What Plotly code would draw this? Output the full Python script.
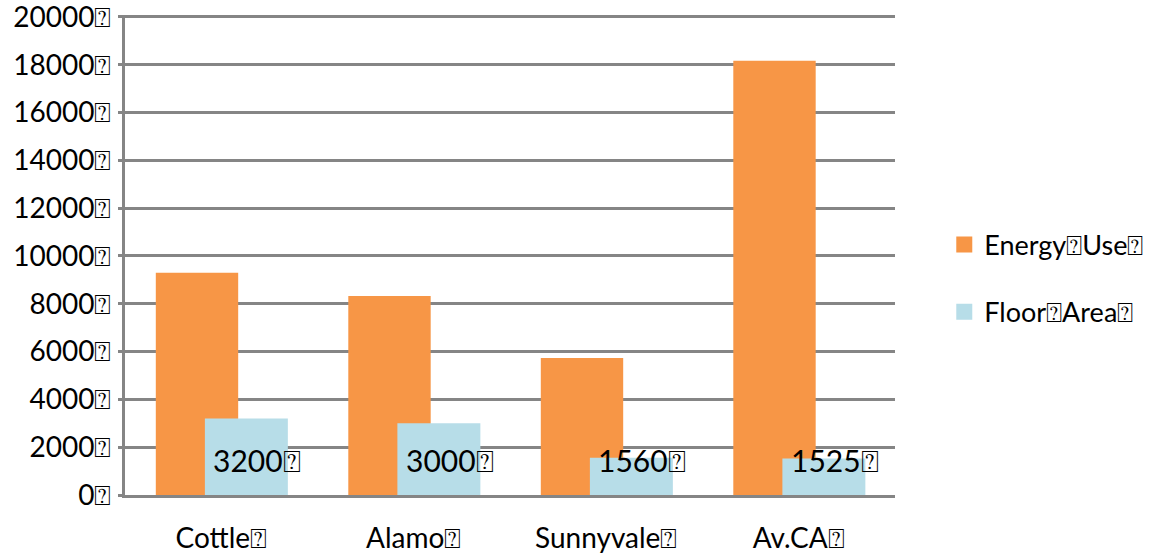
import plotly.graph_objects as go

# Building data
sites = ["Cottle", "Alamo", "Sunnyvale", "Av.CA"]
energy_use = [9300, 8330, 5730, 18170]
floor_area = [3200, 3000, 1560, 1525]

BOX = "\u2370"  # placeholder glyph shown in place of spaces / line ends
tick_vals = [0, 2000, 4000, 6000, 8000, 10000, 12000, 14000, 16000, 18000, 20000]
tick_text = [f"{v}{BOX}" for v in tick_vals]
cat_text = [f"{s}{BOX}" for s in sites]

ORANGE = "#F79646"
AQUA = "#B7DDE8"
GRID = "#858585"
FONT = "Lato"
FS = 28

fig = go.Figure()

fig.add_trace(go.Bar(
    x=sites, y=energy_use, name=f"Energy{BOX}Use{BOX}",
    marker=dict(color=ORANGE, line=dict(width=0)),
    width=0.428, offset=-0.34, showlegend=False,
))
fig.add_trace(go.Bar(
    x=sites, y=floor_area, name=f"Floor{BOX}Area{BOX}",
    marker=dict(color=AQUA, line=dict(width=0)),
    width=0.431, offset=-0.085, showlegend=False,
))

# Legend entries (square swatches), one legend box each
fig.add_trace(go.Scatter(
    x=[None], y=[None], mode="markers", name=f"Energy{BOX}Use{BOX}",
    marker=dict(symbol="square", size=18, color=ORANGE), legend="legend",
))
fig.add_trace(go.Scatter(
    x=[None], y=[None], mode="markers", name=f"Floor{BOX}Area{BOX}",
    marker=dict(symbol="square", size=18, color=AQUA), legend="legend2",
))

# Value labels inside the floor-area bars
for s, v in zip(sites, floor_area):
    fig.add_annotation(
        x=s, y=0, xref="x", yref="y", text=f"{v}{BOX}", showarrow=False,
        xanchor="left", yanchor="middle", xshift=-10, yshift=35,
        font=dict(family=FONT, size=30, color="black"),
    )

fig.update_layout(
    width=1154, height=558,
    margin=dict(l=125, r=259, t=15, b=63, autoexpand=False),
    paper_bgcolor="white", plot_bgcolor="white",
    barmode="overlay",
    font=dict(family=FONT, size=FS, color="black"),
    legend=dict(x=1.064, y=0.521, xanchor="left", yanchor="middle",
                font=dict(family=FONT, size=27), bgcolor="rgba(0,0,0,0)"),
    legend2=dict(x=1.064, y=0.381, xanchor="left", yanchor="middle",
                 font=dict(family=FONT, size=27), bgcolor="rgba(0,0,0,0)"),
)

fig.update_xaxes(
    type="category", range=[-0.5, 3.5],
    tickvals=sites, ticktext=cat_text,
    showline=True, linecolor=GRID, linewidth=3,
    showgrid=False, ticks="", ticklabelstandoff=16, automargin=False,
    tickfont=dict(family=FONT, size=FS),
)
fig.update_yaxes(
    range=[0, 20080], tickvals=tick_vals, ticktext=tick_text,
    showline=True, linecolor=GRID, linewidth=3,
    showgrid=True, gridcolor=GRID, gridwidth=2.5,
    ticks="outside", ticklen=4, tickwidth=2.5, tickcolor=GRID,
    ticklabelstandoff=1, zeroline=False, automargin=False,
    ticklabeloverflow="allow",
    tickfont=dict(family=FONT, size=FS),
)

fig.write_html("out.html")
